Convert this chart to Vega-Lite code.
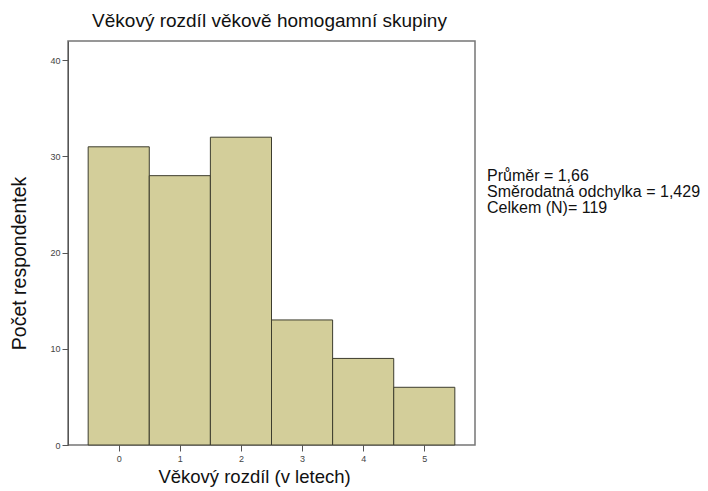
{
  "$schema": "https://vega.github.io/schema/vega-lite/v6.json",
  "autosize": {"type": "none"},
  "padding": {"left": 68, "top": 41, "right": 233, "bottom": 46},
  "width": 407,
  "height": 404,
  "background": "white",
  "config": {
    "font": "Liberation Sans",
    "view": {"fill": "#f0f0f0", "stroke": "#767676", "strokeWidth": 1.5}
  },
  "title": {
    "text": "Věkový rozdíl věkově homogamní skupiny",
    "fontSize": 19,
    "fontWeight": "normal",
    "color": "#111",
    "anchor": "middle",
    "offset": 10,
    "dx": -2
  },
  "layer": [
    {
      "data": {
        "values": [
          {"rozdil": 0, "od": -0.5, "do": 0.5, "pocet": 31},
          {"rozdil": 1, "od": 0.5, "do": 1.5, "pocet": 28},
          {"rozdil": 2, "od": 1.5, "do": 2.5, "pocet": 32},
          {"rozdil": 3, "od": 2.5, "do": 3.5, "pocet": 13},
          {"rozdil": 4, "od": 3.5, "do": 4.5, "pocet": 9},
          {"rozdil": 5, "od": 4.5, "do": 5.5, "pocet": 6}
        ]
      },
      "mark": {"type": "rect", "fill": "#d3ce9a", "stroke": "#3d3d2e", "strokeWidth": 1},
      "encoding": {
        "x": {
          "field": "od",
          "type": "quantitative",
          "scale": {"domain": [-0.83, 5.83], "nice": false, "zero": false},
          "axis": {
            "title": "Věkový rozdíl (v letech)",
            "values": [0, 1, 2, 3, 4, 5],
            "labelExpr": "datum.value",
            "grid": false,
            "domain": false,
            "tickSize": 6,
            "tickColor": "#555",
            "labelFontSize": 9,
            "labelColor": "#444",
            "labelPadding": 3,
            "titleFontSize": 18.5,
            "titleFontWeight": "normal",
            "titleColor": "#111",
            "titleBaseline": "alphabetic",
            "titleY": 37,
            "titleX": 186
          }
        },
        "x2": {"field": "do"},
        "y": {
          "field": "pocet",
          "type": "quantitative",
          "scale": {"domain": [0, 42], "nice": false},
          "axis": {
            "title": "Počet respondentek",
            "values": [0, 10, 20, 30, 40],
            "grid": false,
            "domainColor": "#555",
            "tickSize": 6,
            "tickColor": "#555",
            "labelFontSize": 9,
            "labelColor": "#444",
            "labelPadding": 2,
            "titleFontSize": 19.5,
            "titleFontWeight": "normal",
            "titleColor": "#111",
            "titleBaseline": "middle",
            "titleX": -49,
            "titleY": 222
          }
        },
        "y2": {"datum": 0}
      }
    },
    {
      "data": {
        "values": [
          {"udaj": "Průměr = 1,66"},
          {"udaj": "Směrodatná odchylka = 1,429"},
          {"udaj": "Celkem (N)= 119"}
        ]
      },
      "mark": {"type": "point", "opacity": 0},
      "encoding": {
        "color": {
          "field": "udaj",
          "type": "nominal",
          "sort": null,
          "scale": {"range": ["#000", "#000", "#000"]},
          "legend": {
            "title": null,
            "orient": "none",
            "legendX": 403,
            "legendY": 127,
            "symbolSize": 0,
            "symbolOpacity": 0,
            "symbolStrokeWidth": 0,
            "labelOffset": 0,
            "labelFontSize": 16,
            "labelColor": "#111",
            "labelLimit": 300,
            "rowPadding": -2.5,
            "padding": 0
          }
        }
      }
    }
  ]
}
